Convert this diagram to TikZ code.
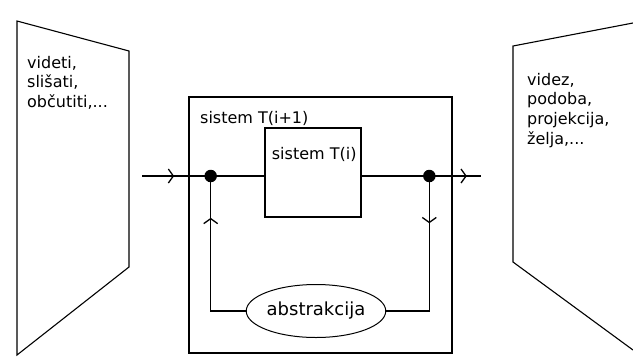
\documentclass[tikz,border=0pt]{standalone}
\usepackage{fontspec}
\setmainfont{DejaVu Sans}
\usetikzlibrary{positioning, arrows.meta, shapes.geometric, decorations.markings, calc}

\begin{document}
\begin{tikzpicture}[x=1pt, y=-1pt,
    every node/.style={font=\fontsize{16}{19.6}\selectfont},
    sysbox/.style={draw, line width=1.6pt, inner sep=0pt},
    junction/.style={circle, fill=black, inner sep=0pt, minimum size=12.5pt},
    abst/.style={draw, ellipse, line width=1pt, inner sep=0pt, minimum width=98pt, minimum height=53pt, font=\fontsize{18}{20}\selectfont},
    sense/.style={align=left, inner sep=0pt, anchor=north west},
    wire/.style={line width=1.4pt, line cap=rect},
    flow/.style={postaction={decorate}, decoration={markings, mark=at position #1 with {\arrow{Straight Barb[length=5pt, width=14pt, line width=1.3pt]}}}},
  ]
  \useasboundingbox (0,0) rectangle (633,357);

  % Screens
  \draw[line width=1.1pt] (17,21) -- (129,51) -- (129,267) -- (17,355) -- cycle;
  \node[sense] (senses) at (27,56) {videti,\\slišati,\\občutiti,...};
  \draw[line width=1.1pt] (633,23) -- (513,46) -- (513,262) -- (633,350);
  \node[sense] (images) at (527,73) {videz,\\podoba,\\projekcija,\\želja,...};

  % Systems
  \node[sysbox, minimum width=263pt, minimum height=256pt] (outer) at (320.5,225) {};
  \node[anchor=base west, inner sep=0pt] (outerlbl) at (200,123) {sistem T(i+1)};
  \node[sysbox, minimum width=96pt, minimum height=89pt] (inner) at (313,172.5) {};
  \node[anchor=base west, inner sep=0pt] (innerlbl) at (271.7,159) {sistem T(i)};
  \node[junction] (jin) at (210.7,176) {};
  \node[junction] (jout) at (429.3,176) {};
  \node[abst] (abs) at (316,311) {abstrakcija};
  \coordinate (src) at (143,176);
  \coordinate (dst) at (480,176);
  \coordinate (cornL) at (jin |- abs);
  \coordinate (cornR) at (jout |- abs);

  % Wires
  \draw[wire, flow=0.46] (src) -- (jin.center);
  \draw[wire] (jin) -- (jin -| inner.west);
  \draw[wire] (inner.east |- jout) -- (jout);
  \draw[wire, flow=0.74] (jout.center) -- (dst);
  \draw[wire, flow=0.35] (jout.center) -- (cornR);
  \draw[wire] (cornR) -- (abs);
  \draw[wire] (abs) -- (cornL);
  \draw[wire, flow=0.69] (cornL) -- (jin.center);
\end{tikzpicture}
\end{document}
